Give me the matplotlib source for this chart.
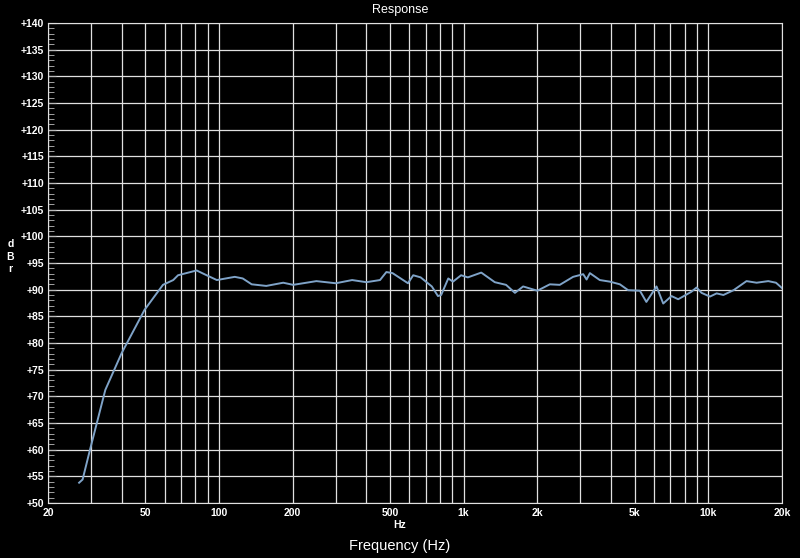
import numpy as np
import matplotlib.pyplot as plt
from matplotlib.ticker import FixedLocator, MultipleLocator

plt.rcParams["font.family"] = ["Liberation Sans Narrow", "Liberation Sans", "DejaVu Sans"]

# Frequency response (Hz, dBr)
freq = [26.8, 27.7, 29.7, 34.3, 40, 49.6, 59, 65, 68, 81, 89, 98, 116, 125, 136,
        156, 183, 201, 250, 300, 350, 400, 455, 483, 512, 592, 622, 667, 741, 785,
        809, 865, 904, 976, 1040, 1180, 1340, 1490, 1620, 1750, 2000, 2250, 2470,
        2800, 3080, 3180, 3280, 3600, 3960, 4350, 4700, 5250, 5580, 6140, 6540,
        7070, 7530, 8520, 8950, 9380, 10150, 10810, 11520, 12680, 14320, 15750,
        17570, 18900, 20000]
level = [53.8, 54.4, 60.0, 71.2, 78.1, 86.2, 90.9, 91.8, 92.7, 93.6, 92.7, 91.8,
         92.4, 92.1, 91.0, 90.7, 91.3, 90.9, 91.6, 91.2, 91.8, 91.4, 91.8, 93.3,
         93.1, 91.2, 92.7, 92.3, 90.6, 88.8, 89.0, 92.1, 91.5, 92.7, 92.3, 93.2,
         91.4, 90.9, 89.4, 90.6, 89.8, 91.0, 90.9, 92.4, 92.9, 91.9, 93.1, 91.8,
         91.5, 91.0, 89.9, 89.8, 87.7, 90.6, 87.4, 88.8, 88.2, 89.6, 90.4, 89.4,
         88.7, 89.3, 89.0, 89.9, 91.6, 91.3, 91.6, 91.3, 90.3]

x_ticks = [20, 50, 100, 200, 500, 1000, 2000, 5000, 10000, 20000]
x_labels = ["20", "50", "100", "200", "500", "1k", "2k", "5k", "10k", "20k"]
y_ticks = list(range(50, 141, 5))

fig = plt.figure(figsize=(8, 5.58), dpi=100, facecolor="black")
ax = fig.add_axes([0.06, 0.0986, 0.9175, 0.8602], facecolor="black")

ax.set_xscale("log")
ax.set_xlim(20, 20000)
ax.set_ylim(50, 140)

grid_x = [m * 10 ** d for d in range(1, 5) for m in range(1, 10) if 20 <= m * 10 ** d <= 20000]
for gx in grid_x:
    ax.axvline(gx, color="#e0e0e0", lw=0.9, zorder=1)
for gy in y_ticks:
    ax.axhline(gy, color="#e0e0e0", lw=0.9, zorder=1)

ax.plot(freq, level, color="#7fa3c8", lw=1.4, zorder=3)

ax.xaxis.set_major_locator(FixedLocator(x_ticks))
ax.xaxis.set_minor_locator(FixedLocator([]))
ax.set_xticks(x_ticks, x_labels)
ax.set_yticks(y_ticks, ["+%d" % v for v in y_ticks])
ax.yaxis.set_minor_locator(MultipleLocator(1))
ax.tick_params(axis="both", colors="white", labelsize=7.5, length=0)
ax.tick_params(axis="y", which="minor", direction="in", length=4, color="#bbbbbb")
ax.tick_params(axis="y", which="major", direction="in", length=6, color="#bbbbbb", pad=3)
for lbl in ax.get_xticklabels() + ax.get_yticklabels():
    lbl.set_fontweight("bold")
for s in ax.spines.values():
    s.set_color("#e0e0e0")

fig.text(0.5, 0.982, "Response", color="white", fontsize=9, ha="center", va="center")
fig.text(0.5, 0.06, "Hz", color="white", fontsize=7.5, ha="center", va="center",
         fontweight="bold")
fig.text(0.5, 0.022, "Frequency (Hz)", color="white", fontsize=10.5, ha="center", va="center")
fig.text(0.013, 0.54, "d\nB\nr", color="white", fontsize=7.5, ha="center", va="center",
         linespacing=1.3, fontweight="bold")

fig.savefig("out.png", dpi=100, facecolor="black")
